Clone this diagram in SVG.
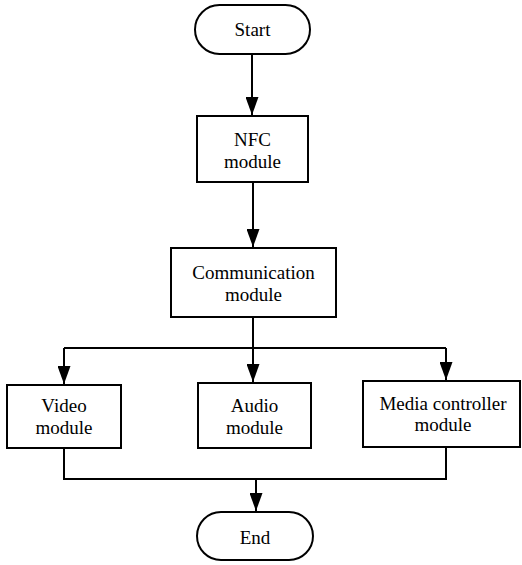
<svg xmlns="http://www.w3.org/2000/svg" width="522" height="565" viewBox="0 0 522 565">
<defs>
<marker id="ah" markerWidth="18" markerHeight="13" refX="18" refY="6.5" viewBox="0 0 18 13" markerUnits="userSpaceOnUse" orient="auto">
<path d="M0,0 L18,6.5 L0,13 Z" fill="#000"/>
</marker>
<style>
.box{fill:#fff;stroke:#000;stroke-width:2}
.t{font-size:19px;text-anchor:middle;fill:#000}
.c{fill:none;stroke:#000;stroke-width:2}
</style>
</defs>
<rect width="522" height="565" fill="#fff"/>
<g id="connectors">
<path class="c" d="M252,54 V115" marker-end="url(#ah)"/>
<path class="c" d="M253,182 V247" marker-end="url(#ah)"/>
<path class="c" d="M253,317 V348"/>
<path class="c" d="M64,348 H446"/>
<path class="c" d="M64,348 V384" marker-end="url(#ah)"/>
<path class="c" d="M253,348 V382" marker-end="url(#ah)"/>
<path class="c" d="M446,348 V380" marker-end="url(#ah)"/>
<path class="c" d="M64,448 V479 H446 V447"/>
<path class="c" d="M256,479 V511" marker-end="url(#ah)"/>
</g>
<g font-family="'Liberation Serif', 'Times New Roman', Times, serif">
<g id="start">
<rect class="box" x="195" y="5" width="115" height="49" rx="24.5"/>
<text class="t" x="252.5" y="36">Start</text>
</g>
<g id="nfc">
<rect class="box" x="197" y="116" width="111" height="66"/>
<text class="t" x="252.5" y="146">NFC</text>
<text class="t" x="252.5" y="168">module</text>
</g>
<g id="comm">
<rect class="box" x="171" y="248" width="165" height="69"/>
<text class="t" x="253.5" y="279">Communication</text>
<text class="t" x="253.5" y="301">module</text>
</g>
<g id="video">
<rect class="box" x="7" y="385" width="114" height="63"/>
<text class="t" x="64" y="412">Video</text>
<text class="t" x="64" y="434">module</text>
</g>
<g id="audio">
<rect class="box" x="198" y="383" width="113" height="65"/>
<text class="t" x="254.5" y="412">Audio</text>
<text class="t" x="254.5" y="434">module</text>
</g>
<g id="media">
<rect class="box" x="363" y="381" width="157" height="66"/>
<text class="t" x="443" y="410">Media controller</text>
<text class="t" x="443" y="431">module</text>
</g>
<g id="end">
<rect class="box" x="197" y="512" width="116" height="48" rx="24"/>
<text class="t" x="255" y="544">End</text>
</g>
</g>
</svg>
